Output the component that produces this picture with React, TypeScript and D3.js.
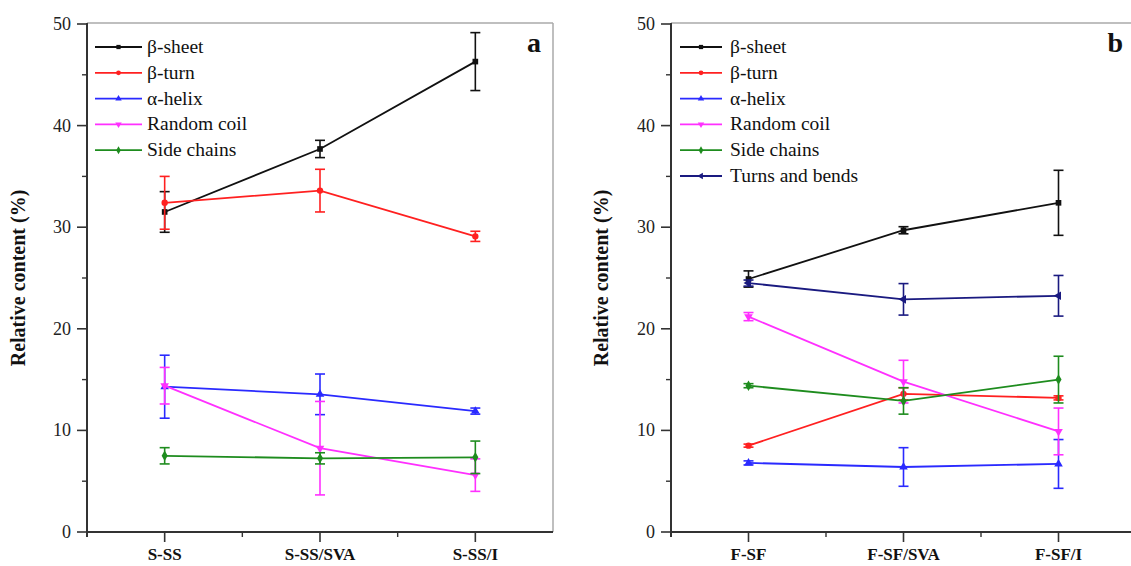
import React from 'react';
import * as d3 from 'd3';

// categories
const categoriesA = ['S-SS', 'S-SS/SVA', 'S-SS/I'];
const categoriesB = ['F-SF', 'F-SF/SVA', 'F-SF/I'];
const seriesNames = ['β-sheet', 'β-turn', 'α-helix', 'Random coil', 'Side chains', 'Turns and bends'];
const yTicks = [0, 10, 20, 30, 40, 50];

// panel a values (mean, error)
const sheetA = [31.5, 37.7, 46.3];
const sheetErrA = [2.0, 0.85, 2.85];
const turnA = [32.4, 33.6, 29.1];
const turnErrA = [2.6, 2.1, 0.5];
const helixA = [14.3, 13.55, 11.9];
const helixErrA = [3.1, 2.0, 0.3];
const coilA = [14.4, 8.25, 5.6];
const coilErrA = [1.8, 4.6, 1.6];
const sideA = [7.5, 7.25, 7.35];
const sideErrA = [0.8, 0.55, 1.6];

// panel b values (mean, error)
const sheetB = [24.9, 29.7, 32.4];
const sheetErrB = [0.8, 0.35, 3.2];
const turnB = [8.5, 13.6, 13.2];
const turnErrB = [0.15, 0.6, 0.2];
const helixB = [6.8, 6.4, 6.7];
const helixErrB = [0.2, 1.9, 2.4];
const coilB = [21.2, 14.8, 9.9];
const coilErrB = [0.4, 2.1, 2.3];
const sideB = [14.4, 12.9, 15.0];
const sideErrB = [0.2, 1.3, 2.3];
const bendsB = [24.5, 22.9, 23.25];
const bendsErrB = [0.3, 1.55, 2.0];

const colors = ['#111111', '#ff2020', '#2a2aff', '#ff30ff', '#1e8c1e', '#1a1a80'];
const symbols = [
  { type: d3.symbolSquare, rot: 0 },
  { type: d3.symbolCircle, rot: 0 },
  { type: d3.symbolTriangle, rot: 0 },
  { type: d3.symbolTriangle, rot: 180 },
  { type: d3.symbolDiamond, rot: 0 },
  { type: d3.symbolTriangle, rot: -90 },
];

const FONT = 'Liberation Serif, DejaVu Serif, serif';

type Series = { name: string; values: number[]; errs: number[]; idx: number };

const seriesA: Series[] = [
  { name: seriesNames[0], values: sheetA, errs: sheetErrA, idx: 0 },
  { name: seriesNames[1], values: turnA, errs: turnErrA, idx: 1 },
  { name: seriesNames[2], values: helixA, errs: helixErrA, idx: 2 },
  { name: seriesNames[3], values: coilA, errs: coilErrA, idx: 3 },
  { name: seriesNames[4], values: sideA, errs: sideErrA, idx: 4 },
];

const seriesB: Series[] = [
  { name: seriesNames[0], values: sheetB, errs: sheetErrB, idx: 0 },
  { name: seriesNames[1], values: turnB, errs: turnErrB, idx: 1 },
  { name: seriesNames[2], values: helixB, errs: helixErrB, idx: 2 },
  { name: seriesNames[3], values: coilB, errs: coilErrB, idx: 3 },
  { name: seriesNames[4], values: sideB, errs: sideErrB, idx: 4 },
  { name: seriesNames[5], values: bendsB, errs: bendsErrB, idx: 5 },
];

const yScale = d3.scaleLinear().domain([0, 50]).range([532, 24]);

const Panel = ({ left, right, categories, series, letter, letterX, labelX, legend }: any) => {
  const x = d3.scaleLinear().domain([-0.5, 2.5]).range([left, right]);
  const line = d3.line<number>().x((_, i) => x(i)).y(d => yScale(d));
  const minorY = d3.range(5, 50, 10);
  const axisColor = '#333';

  return (
    <g style={{ fontFamily: FONT }}>
      {/* top and right frame */}
      <line x1={left} x2={right} y1={23} y2={23} stroke="#aaa" strokeWidth={1.5} />
      <line x1={right} x2={right} y1={23} y2={532} stroke="#aaa" strokeWidth={1.5} />

      {/* series */}
      {series.map((s: Series) => (
        <g key={s.name}>
          <path d={line(s.values) || ''} fill="none" stroke={colors[s.idx]} strokeWidth={1.8} />
          {s.values.map((v, i) => (
            <g key={i} stroke={colors[s.idx]} strokeWidth={1.6}>
              <line x1={x(i)} x2={x(i)} y1={yScale(v - s.errs[i])} y2={yScale(v + s.errs[i])} />
              <line x1={x(i) - 5} x2={x(i) + 5} y1={yScale(v - s.errs[i])} y2={yScale(v - s.errs[i])} />
              <line x1={x(i) - 5} x2={x(i) + 5} y1={yScale(v + s.errs[i])} y2={yScale(v + s.errs[i])} />
            </g>
          ))}
          {s.values.map((v, i) => (
            <path
              key={'m' + i}
              d={d3.symbol().type(symbols[s.idx].type).size(32)() || ''}
              transform={`translate(${x(i)},${yScale(v)}) rotate(${symbols[s.idx].rot})`}
              fill={colors[s.idx]}
            />
          ))}
        </g>
      ))}

      {/* y axis */}
      <line x1={left} x2={left} y1={23} y2={537} stroke={axisColor} strokeWidth={2} />
      {yTicks.map(t => (
        <g key={t}>
          <line x1={left - 10} x2={left} y1={yScale(t)} y2={yScale(t)} stroke={axisColor} strokeWidth={1.6} />
          <text x={left - 16} y={yScale(t) + 6} textAnchor="end" style={{ fontFamily: FONT, fontSize: 18 }} fill="#222">
            {t}
          </text>
        </g>
      ))}
      {minorY.map(t => (
        <line key={t} x1={left - 5} x2={left} y1={yScale(t)} y2={yScale(t)} stroke={axisColor} strokeWidth={1.4} />
      ))}
      <text
        transform={`translate(${labelX},${yScale(25)}) rotate(-90)`}
        textAnchor="middle"
        style={{ fontFamily: FONT, fontSize: 20, fontWeight: 'bold' }}
        fill="#111"
      >
        Relative content (%)
      </text>

      {/* x axis */}
      <line x1={left - 1} x2={right} y1={532} y2={532} stroke={axisColor} strokeWidth={2} />
      {categories.map((c: string, i: number) => (
        <g key={c}>
          <line x1={x(i)} x2={x(i)} y1={532} y2={542} stroke={axisColor} strokeWidth={1.6} />
          <text x={x(i)} y={560} textAnchor="middle" style={{ fontFamily: FONT, fontSize: 17, fontWeight: 'bold' }} fill="#111">
            {c}
          </text>
        </g>
      ))}
      {[0.5, 1.5].map(t => (
        <line key={t} x1={x(t)} x2={x(t)} y1={532} y2={537} stroke={axisColor} strokeWidth={1.4} />
      ))}

      {/* legend */}
      {series.map((s: Series, i: number) => {
        const ly = 47 + i * 25.8;
        const mid = (legend.x1 + legend.x2) / 2;
        return (
          <g key={'lg' + s.name}>
            <line x1={legend.x1} x2={legend.x2} y1={ly} y2={ly} stroke={colors[s.idx]} strokeWidth={1.8} />
            <path
              d={d3.symbol().type(symbols[s.idx].type).size(18)() || ''}
              transform={`translate(${mid},${ly}) rotate(${symbols[s.idx].rot})`}
              fill={colors[s.idx]}
            />
            <text x={legend.tx} y={ly + 6} style={{ fontFamily: FONT, fontSize: 19.5 }} fill="#111">
              {s.name}
            </text>
          </g>
        );
      })}

      <text x={letterX} y={52} textAnchor="end" style={{ fontFamily: FONT, fontSize: 28, fontWeight: 'bold' }} fill="#111">
        {letter}
      </text>
    </g>
  );
};

export default function App() {
  return (
    <svg
      width={1131}
      height={566}
      style={{ position: 'absolute', left: 0, top: 0, background: '#fff' }}
    >
      <Panel
        left={87}
        right={553}
        categories={categoriesA}
        series={seriesA}
        letter="a"
        letterX={541}
        labelX={25}
        legend={{ x1: 95, x2: 142, tx: 147 }}
      />
      <Panel
        left={671}
        right={1136}
        categories={categoriesB}
        series={seriesB}
        letter="b"
        letterX={1123}
        labelX={608}
        legend={{ x1: 680, x2: 722, tx: 730 }}
      />
    </svg>
  );
}
